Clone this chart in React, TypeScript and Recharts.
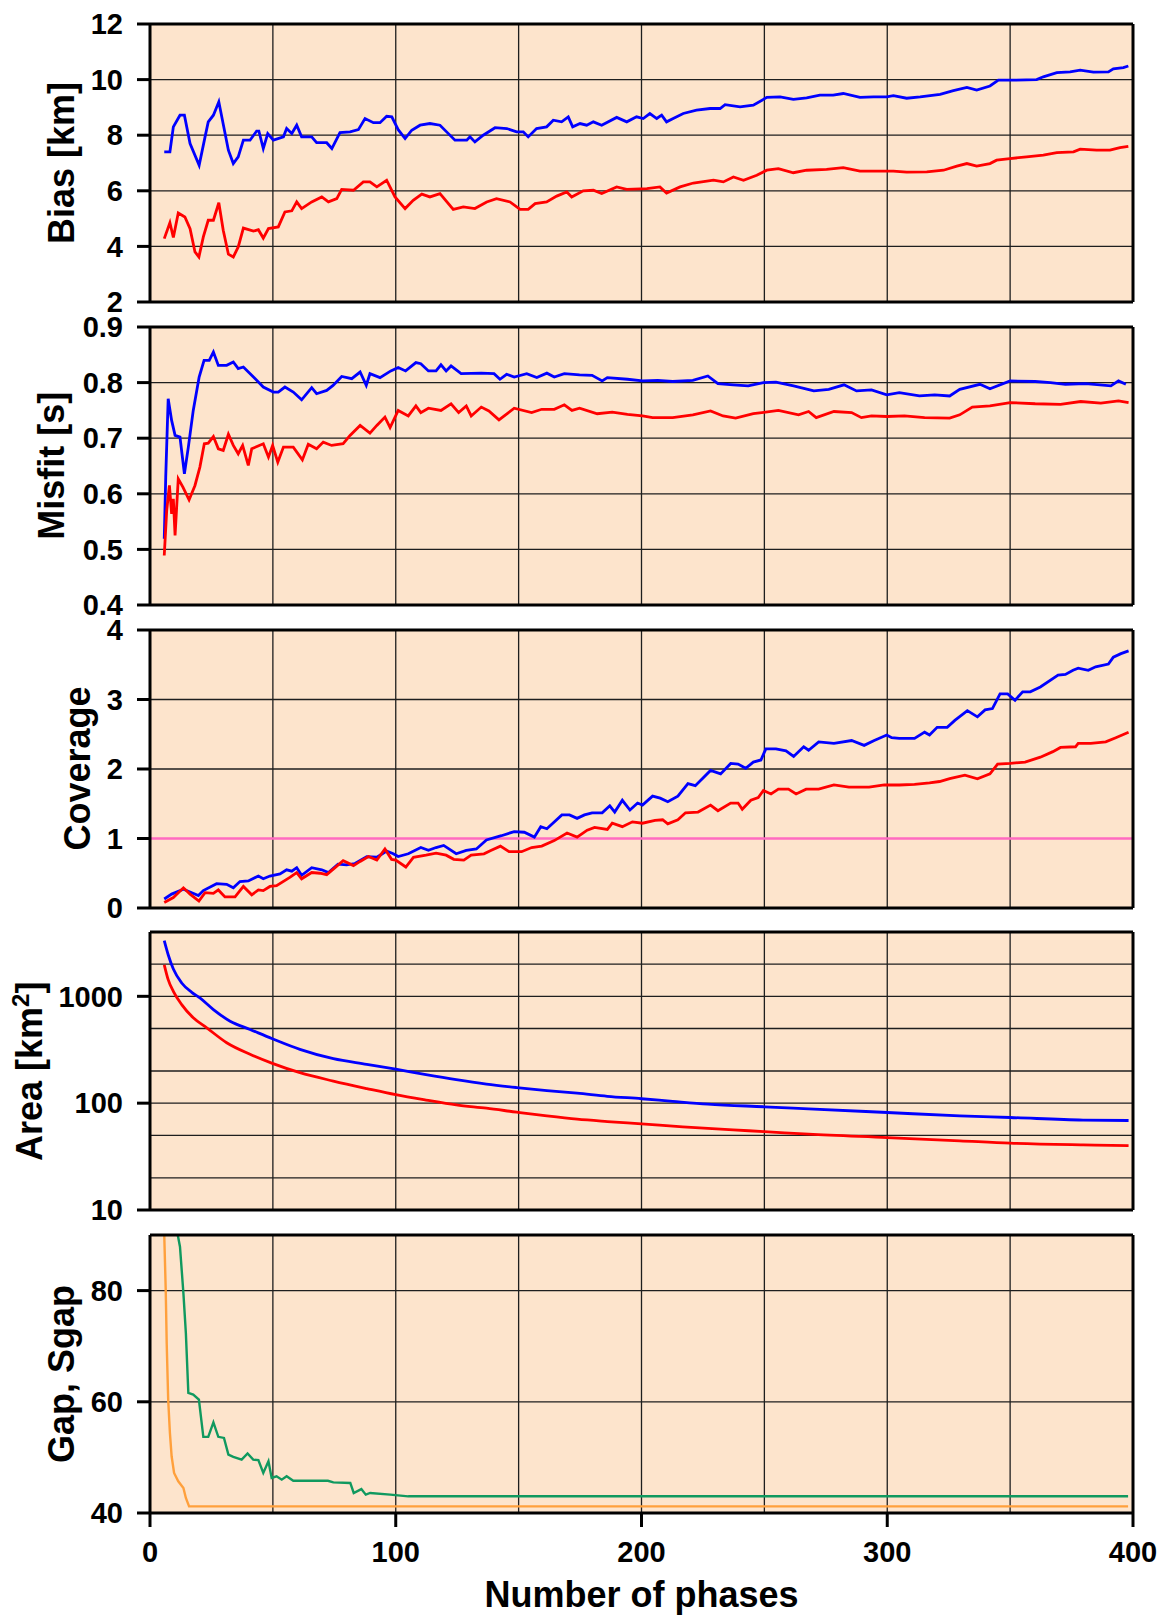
import React from "react"
import { LineChart, Line, XAxis, YAxis, CartesianGrid, ReferenceLine } from "recharts"

// shared x axis
const xTicks = [0, 100, 200, 300, 400]
const xGrid = [50, 100, 150, 200, 250, 300, 350]

// Bias [km]
const biasTicks = [2, 4, 6, 8, 10, 12]
const biasBlueX = [5.8, 8.1, 9.5, 12.2, 14, 16.3, 20, 22.4, 23.7, 25.8, 28, 31.9, 33.9, 35.9, 38, 40.7, 43.4, 44.3, 46.1, 47.9, 50.2, 54.3, 55.6, 57.7, 59.7, 61.7, 65.8, 67.8, 71.9, 74, 77.3, 81.4, 84.8, 87.5, 90.9, 93.6, 96.3, 98.4, 101, 103.8, 106.5, 109.9, 113.9, 118, 120.7, 124.1, 128.9, 130.2, 132.2, 135.6, 140.4, 145.2, 149.2, 151.9, 153.9, 157.3, 161.4, 164.1, 167.5, 170.2, 172, 175, 177.7, 180.4, 183.8, 189.9, 194, 198, 200.7, 203.4, 206.2, 208.2, 210.2, 212.9, 217, 222.4, 227.9, 232, 234, 240.1, 245.5, 251, 256.4, 261.8, 267.2, 272.6, 278, 282.1, 288.9, 294.4, 299.8, 302.5, 307.9, 313.4, 321.5, 326.9, 332.4, 336.4, 341.8, 345.2, 351.3, 360.8, 363.5, 369, 374.4, 378.5, 383.9, 390, 392, 396.1, 398.1]
const biasBlueY = [7.4, 7.4, 8.3, 8.72, 8.72, 7.7, 6.92, 7.94, 8.48, 8.72, 9.2, 7.46, 6.98, 7.22, 7.82, 7.82, 8.15, 8.15, 7.52, 8.06, 7.82, 7.94, 8.24, 8.06, 8.36, 7.94, 7.94, 7.73, 7.73, 7.52, 8.09, 8.12, 8.2, 8.6, 8.45, 8.45, 8.68, 8.66, 8.2, 7.88, 8.18, 8.36, 8.42, 8.36, 8.12, 7.82, 7.82, 7.94, 7.76, 8, 8.27, 8.24, 8.12, 8.12, 7.94, 8.24, 8.3, 8.54, 8.48, 8.66, 8.3, 8.42, 8.36, 8.48, 8.36, 8.64, 8.48, 8.66, 8.6, 8.78, 8.6, 8.72, 8.48, 8.6, 8.78, 8.9, 8.96, 8.96, 9.1, 9.02, 9.08, 9.36, 9.38, 9.29, 9.34, 9.44, 9.44, 9.5, 9.36, 9.38, 9.38, 9.42, 9.33, 9.38, 9.47, 9.6, 9.72, 9.62, 9.77, 9.98, 9.98, 10, 10.1, 10.25, 10.28, 10.34, 10.27, 10.28, 10.39, 10.43, 10.49]
const biasRedX = [5.8, 8.1, 9.5, 11.5, 14.2, 16.3, 18.3, 19.9, 21.7, 23.7, 25.8, 28, 29.8, 31.9, 33.9, 35.9, 38, 42.1, 44.1, 46.1, 48.2, 52.2, 54.9, 57.7, 59.7, 61.7, 65.8, 69.9, 72.6, 76, 78, 82.8, 86.8, 89.5, 92.3, 96.3, 99.7, 103.8, 107.1, 110.6, 113.9, 118, 123.4, 127.5, 132.2, 137, 141, 146.5, 150.6, 153.9, 156.7, 161.4, 165.5, 169.6, 171.6, 176.3, 180.4, 183.8, 189.9, 194, 202.2, 207.5, 210.2, 215.7, 221.1, 229.3, 233.3, 237.4, 241.5, 246.9, 251, 255.7, 261.8, 267.2, 275.3, 282.1, 288.9, 297.1, 302.5, 307.9, 316.1, 322.9, 328.3, 332.4, 336.4, 341.8, 344.5, 349.9, 356.7, 363.5, 369, 375.8, 378.5, 385.2, 390.6, 394.7, 398.1]
const biasRedY = [4.28, 4.85, 4.32, 5.2, 5.06, 4.64, 3.8, 3.62, 4.34, 4.94, 4.94, 5.57, 4.58, 3.72, 3.62, 3.98, 4.66, 4.55, 4.6, 4.3, 4.64, 4.7, 5.24, 5.28, 5.6, 5.36, 5.6, 5.78, 5.6, 5.72, 6.05, 6.02, 6.32, 6.32, 6.14, 6.38, 5.78, 5.36, 5.66, 5.88, 5.78, 5.9, 5.33, 5.42, 5.36, 5.6, 5.72, 5.6, 5.33, 5.33, 5.54, 5.6, 5.81, 5.96, 5.78, 6, 6.02, 5.9, 6.14, 6.05, 6.08, 6.14, 5.92, 6.14, 6.28, 6.38, 6.32, 6.5, 6.38, 6.56, 6.74, 6.8, 6.65, 6.74, 6.77, 6.83, 6.71, 6.71, 6.71, 6.67, 6.68, 6.74, 6.89, 6.98, 6.89, 6.98, 7.1, 7.16, 7.22, 7.28, 7.37, 7.4, 7.5, 7.46, 7.46, 7.55, 7.6]

// Misfit [s]
const misfitTicks = [0.4, 0.5, 0.6, 0.7, 0.8, 0.9]
const misfitBlueX = [5.8, 6.4, 7.4, 8.8, 10.2, 12.2, 14, 15.6, 17.6, 20, 22, 24.1, 25.8, 27.8, 31.2, 33.9, 35.9, 38, 42.1, 46.1, 50.2, 52.2, 54.9, 58.3, 61.7, 65.8, 67.8, 71.9, 74.5, 78, 82.1, 85.5, 88, 89.5, 93.6, 98, 101, 104, 108.2, 110.2, 113.3, 116.4, 118.4, 120.5, 122.5, 126.6, 134.8, 140, 142.4, 145.1, 148.2, 153.3, 157.4, 161.5, 164.5, 168.6, 174.8, 179.9, 184, 186.1, 194.3, 200.4, 206.6, 212.7, 220.9, 227, 231.1, 237.3, 243.4, 249.6, 254.7, 261.9, 270.1, 276.2, 282.4, 287.5, 293.6, 299.8, 304.9, 313.1, 319.3, 325.4, 329.5, 337.7, 341.8, 350, 360.2, 366.4, 372.5, 380.7, 391, 394.1, 397.1]
const misfitBlueY = [0.519, 0.63, 0.771, 0.732, 0.705, 0.702, 0.636, 0.684, 0.75, 0.81, 0.84, 0.84, 0.855, 0.831, 0.831, 0.837, 0.825, 0.828, 0.81, 0.792, 0.783, 0.783, 0.792, 0.783, 0.769, 0.791, 0.78, 0.786, 0.795, 0.811, 0.807, 0.819, 0.795, 0.816, 0.809, 0.821, 0.827, 0.821, 0.836, 0.834, 0.821, 0.821, 0.832, 0.821, 0.83, 0.816, 0.817, 0.816, 0.806, 0.815, 0.81, 0.816, 0.809, 0.817, 0.81, 0.816, 0.814, 0.813, 0.803, 0.809, 0.806, 0.803, 0.804, 0.802, 0.804, 0.812, 0.798, 0.796, 0.794, 0.8, 0.801, 0.794, 0.785, 0.788, 0.796, 0.785, 0.787, 0.778, 0.782, 0.776, 0.778, 0.776, 0.788, 0.797, 0.789, 0.803, 0.802, 0.8, 0.797, 0.798, 0.794, 0.803, 0.797]
const misfitRedX = [5.8, 6.8, 7.9, 8.8, 9.5, 10.2, 11.5, 13.4, 15.9, 18.3, 20.3, 22.1, 23.7, 25.8, 27.8, 29.8, 31.9, 33.9, 35.9, 37.7, 40, 41.4, 46.1, 48.2, 49.9, 52, 54.3, 58.3, 62, 64.4, 67.8, 70.5, 73.9, 78.6, 81.4, 85.5, 89.5, 92.3, 95.6, 97.7, 101, 105.1, 108.2, 110.2, 113.3, 118.4, 122.5, 125.6, 128.7, 130.7, 134.8, 137.9, 142, 148.2, 155.3, 159.4, 164.5, 168.6, 171.7, 174.8, 182, 188.1, 194.3, 200.4, 204.5, 212.7, 220.9, 228.1, 233.2, 238.3, 245.5, 255.7, 263.9, 268, 271.1, 278.3, 285.5, 289.5, 293.6, 299.8, 307, 315.2, 325.4, 329.5, 334.6, 341.8, 350, 360.2, 370.5, 378.7, 386.9, 394.1, 398.2]
const misfitRedY = [0.489, 0.57, 0.615, 0.564, 0.591, 0.525, 0.627, 0.612, 0.589, 0.615, 0.648, 0.69, 0.691, 0.703, 0.681, 0.678, 0.707, 0.687, 0.672, 0.687, 0.651, 0.681, 0.69, 0.666, 0.687, 0.657, 0.684, 0.684, 0.661, 0.689, 0.681, 0.693, 0.687, 0.69, 0.705, 0.723, 0.709, 0.723, 0.738, 0.719, 0.75, 0.74, 0.758, 0.746, 0.754, 0.75, 0.762, 0.746, 0.758, 0.74, 0.756, 0.749, 0.733, 0.754, 0.746, 0.752, 0.752, 0.76, 0.75, 0.754, 0.744, 0.747, 0.743, 0.74, 0.737, 0.737, 0.742, 0.749, 0.74, 0.736, 0.744, 0.75, 0.742, 0.748, 0.737, 0.748, 0.746, 0.737, 0.74, 0.739, 0.74, 0.737, 0.736, 0.742, 0.756, 0.758, 0.764, 0.762, 0.761, 0.766, 0.763, 0.767, 0.764]

// Coverage
const coverageTicks = [0, 1, 2, 3, 4]
const coverageBlueX = [5.8, 8.8, 13.6, 17, 19.7, 21.7, 27.1, 31.2, 33.9, 36.6, 40, 44.1, 46.1, 48.8, 52.9, 55.6, 57.7, 59.7, 61.7, 65.8, 69.9, 72.6, 76.5, 80, 83.4, 88.2, 92.3, 96.3, 99, 101, 105.1, 110.2, 113.3, 116.4, 119.5, 124.6, 128.7, 132.8, 136.9, 143, 148.2, 152.3, 156.4, 159, 161.5, 167.6, 170.7, 173.8, 176.8, 179.9, 184, 187.1, 189.1, 192.2, 195.3, 198.4, 200.4, 204.5, 207.6, 210.7, 214.8, 218.9, 221.9, 228.1, 232.2, 236.3, 239.3, 242.4, 245.5, 248.6, 250.6, 254.7, 258.8, 261.9, 266, 268, 272.1, 278.3, 285.5, 290.6, 294.7, 299.8, 301.8, 304.9, 311.1, 315.2, 317.2, 320.3, 324.4, 327.5, 332.6, 336.7, 339.8, 342.8, 345.9, 349, 352, 355.1, 358.2, 362.3, 369.5, 372.5, 375.6, 377.7, 381.8, 384.8, 390, 392, 395.1, 398.2]
const coverageBlueY = [0.13, 0.2, 0.27, 0.22, 0.18, 0.25, 0.35, 0.34, 0.29, 0.38, 0.39, 0.46, 0.42, 0.46, 0.49, 0.55, 0.53, 0.58, 0.47, 0.58, 0.55, 0.51, 0.63, 0.62, 0.64, 0.74, 0.73, 0.82, 0.78, 0.74, 0.78, 0.87, 0.83, 0.87, 0.9, 0.78, 0.83, 0.85, 0.98, 1.04, 1.1, 1.09, 1.02, 1.17, 1.14, 1.34, 1.34, 1.29, 1.34, 1.37, 1.37, 1.47, 1.38, 1.55, 1.41, 1.51, 1.48, 1.61, 1.58, 1.53, 1.61, 1.79, 1.76, 1.98, 1.93, 2.08, 2.07, 2.01, 2.1, 2.13, 2.29, 2.29, 2.26, 2.18, 2.32, 2.27, 2.39, 2.37, 2.41, 2.34, 2.41, 2.49, 2.45, 2.44, 2.44, 2.53, 2.49, 2.6, 2.6, 2.7, 2.84, 2.75, 2.85, 2.87, 3.08, 3.08, 2.99, 3.11, 3.11, 3.18, 3.35, 3.36, 3.42, 3.45, 3.42, 3.47, 3.51, 3.61, 3.66, 3.7]
const coverageRedX = [5.8, 9.5, 13.6, 16.3, 19.9, 22.4, 25.8, 27.8, 30.5, 34.6, 38, 41.4, 44.1, 46.1, 48.8, 51.5, 56.9, 59.7, 61.7, 65.8, 69.2, 71.9, 75.3, 78.6, 82.8, 85.5, 88.9, 92.3, 95.6, 98.3, 100, 104.1, 107.2, 112.3, 116.4, 120.5, 123.6, 127.7, 130.7, 135.9, 138.9, 142.6, 146.1, 151.2, 155.3, 159.4, 164.5, 169.7, 173.8, 177.9, 180.9, 186.1, 188.1, 192.2, 196.3, 200.4, 205.5, 208.6, 210.7, 214.8, 217.9, 223, 228.1, 231.1, 236.3, 239.3, 241, 244.5, 247.5, 249.6, 252.7, 255.7, 259.8, 262.9, 267, 272.1, 278.3, 284.4, 292.6, 298.8, 304.9, 311.1, 317.2, 321.3, 325.4, 331.6, 336.7, 341.8, 344.9, 350, 356.1, 362.3, 367.4, 370.5, 376.6, 377.7, 382.8, 388.9, 393, 398.2]
const coverageRedY = [0.08, 0.15, 0.29, 0.2, 0.1, 0.22, 0.21, 0.26, 0.16, 0.16, 0.31, 0.19, 0.26, 0.25, 0.31, 0.32, 0.44, 0.51, 0.42, 0.51, 0.5, 0.48, 0.58, 0.68, 0.61, 0.67, 0.74, 0.69, 0.85, 0.7, 0.69, 0.59, 0.73, 0.76, 0.79, 0.76, 0.7, 0.69, 0.76, 0.78, 0.83, 0.89, 0.81, 0.81, 0.87, 0.89, 0.97, 1.08, 1.02, 1.12, 1.16, 1.13, 1.22, 1.17, 1.24, 1.22, 1.26, 1.27, 1.21, 1.27, 1.37, 1.38, 1.48, 1.4, 1.51, 1.51, 1.42, 1.55, 1.59, 1.69, 1.64, 1.71, 1.71, 1.64, 1.71, 1.71, 1.77, 1.74, 1.74, 1.77, 1.77, 1.78, 1.8, 1.82, 1.86, 1.91, 1.86, 1.93, 2.07, 2.08, 2.1, 2.17, 2.25, 2.31, 2.32, 2.37, 2.37, 2.39, 2.45, 2.53]
const coverageRef = 1

// Area [km2] (log)
const areaTicks = [10, 100, 1000]
const areaGrid = [20, 50, 100, 200, 500, 1000, 2000]
const areaBlueX = [5.8, 7.4, 9.5, 12.9, 17, 20.3, 25.8, 32.6, 40.7, 49.8, 61, 74.6, 88.2, 100, 112.3, 124.6, 136.9, 149.2, 161.5, 173.8, 186.1, 200, 212.7, 227, 250, 268, 300, 329.5, 350, 379.7, 398.2]
const areaBlueY = [3320, 2450, 1800, 1333, 1090, 966, 751, 585, 490, 401, 319, 261, 231, 208, 185, 166, 151, 140, 131, 124, 116, 110, 104, 98, 92.5, 88.5, 81.8, 76, 73.4, 69.5, 68.8]
const areaRedX = [5.8, 7.4, 9.5, 12.9, 17.6, 23.1, 31.2, 40.7, 49.8, 61, 74.6, 88.2, 100, 112.3, 124.6, 136.9, 149.2, 161.5, 173.8, 186.1, 200, 216.8, 237.3, 250, 268, 300, 329.5, 350, 379.7, 398.2]
const areaRedY = [1972, 1432, 1113, 837, 630, 507, 368, 287, 236, 193, 161, 137, 120, 107, 96.4, 89.7, 82.4, 76, 70.8, 67.3, 64, 60, 56.2, 54.2, 51.2, 47.6, 44.4, 42.2, 40.7, 40.1]

// Gap, Sgap
const gapTicks = [40, 60, 80]
const gapOrangeX = [5.8, 6.4, 6.8, 7.4, 8.1, 8.8, 9.8, 11.5, 13.6, 14.6, 15.9, 398]
const gapOrangeY = [90, 80.1, 70.5, 60.4, 54.4, 50.2, 47.2, 45.7, 44.5, 42.7, 41.2, 41.2]
const gapGreenX = [11.3, 12.2, 13.6, 14.6, 15.6, 17.6, 19.9, 21.7, 23.7, 25.8, 27.8, 30.1, 31.9, 33.9, 37.3, 39.7, 42, 44.1, 46.1, 48.2, 49.5, 51.5, 53.6, 55.6, 58.3, 72.4, 74.6, 81.5, 82.9, 86, 87.8, 89.6, 97.8, 105.1, 398]
const gapGreenY = [90, 87.9, 79.5, 72.3, 61.6, 61.3, 60.4, 53.7, 53.7, 56.3, 53.7, 53.5, 50.5, 50.1, 49.6, 50.7, 49.6, 49.5, 47.2, 49.3, 46.3, 46.6, 46, 46.6, 45.8, 45.8, 45.5, 45.4, 43.6, 44.3, 43.3, 43.6, 43.3, 43, 43]

const BLUE = "#0000ff"
const RED = "#ff0000"
const GREEN = "#10995f"
const ORANGE = "#ffa03c"
const PINK = "#ff6ac1"
const BG = "#fde4cc"
const FONT = "'Liberation Sans', Arial, Helvetica, sans-serif"

const PLOT_H = 278
const STEP = 302.75
const FIRST_TOP = 24
const PAD = 20 // extra room so edge tick labels are not clipped

const zip = (xs: number[], ys: number[]) => xs.map((x, i) => ({ x, y: ys[i] }))

interface Series {
    data: { x: number; y: number }[]
    color: string
    width: number
    curve?: "linear" | "monotone"
}

interface PanelProps {
    index: number
    domain: [number, number]
    ticks: number[]
    gridY: number[]
    scale?: "log" | "linear"
    series: Series[]
    pinkAt?: number
    tickFmt?: (v: number) => string
    last?: boolean
}

const tickStyle = { fill: "#000", fontSize: 29, fontWeight: 700, fontFamily: FONT }
const axisLine = { stroke: "#000", strokeWidth: 3 }
const tickLine = { stroke: "#000", strokeWidth: 3 }

function Panel({ index, domain, ticks, gridY, scale = "linear", series, pinkAt, tickFmt, last }: PanelProps) {
    const topAxis = 14
    const bottomAxis = last ? 70 : 14
    const plotTop = FIRST_TOP + index * STEP
    return (
        <div style={{ position: "absolute", left: 0, top: plotTop - topAxis - PAD }}>
            <LineChart
                width={1170}
                height={PLOT_H + topAxis + bottomAxis + 2 * PAD}
                margin={{ top: PAD, right: 0, bottom: PAD, left: 0 }}
            >
                <CartesianGrid fill={BG} fillOpacity={1} horizontal={false} vertical={false} />
                <XAxis
                    xAxisId="top"
                    orientation="top"
                    dataKey="x"
                    type="number"
                    domain={[0, 400]}
                    ticks={xTicks}
                    tick={false}
                    tickSize={index === 0 ? 14 : 13}
                    height={topAxis}
                    axisLine={axisLine}
                    tickLine={tickLine}
                    allowDataOverflow
                />
                <XAxis
                    dataKey="x"
                    type="number"
                    domain={[0, 400]}
                    ticks={xTicks}
                    tick={last ? tickStyle : false}
                    tickSize={last ? 14 : 13}
                    tickMargin={14}
                    height={bottomAxis}
                    axisLine={axisLine}
                    tickLine={tickLine}
                    allowDataOverflow
                />
                <YAxis
                    type="number"
                    scale={scale}
                    domain={domain}
                    ticks={ticks}
                    tickFormatter={tickFmt}
                    tick={tickStyle}
                    tickSize={13}
                    tickMargin={14}
                    width={150}
                    axisLine={axisLine}
                    tickLine={tickLine}
                    allowDataOverflow
                    interval={0}
                />
                <YAxis
                    yAxisId="right"
                    orientation="right"
                    type="number"
                    scale={scale}
                    domain={domain}
                    ticks={ticks}
                    tick={false}
                    tickSize={13}
                    width={37}
                    axisLine={axisLine}
                    tickLine={tickLine}
                    allowDataOverflow
                    interval={0}
                />
                {xGrid.map((v) => (
                    <ReferenceLine key={"x" + v} x={v} stroke="#1e1e1e" strokeWidth={1.3} />
                ))}
                {gridY.map((v) => (
                    <ReferenceLine key={"y" + v} y={v} stroke="#1e1e1e" strokeWidth={1.3} />
                ))}
                {pinkAt !== undefined && <ReferenceLine y={pinkAt} stroke={PINK} strokeWidth={2.5} />}
                {series.map((s, i) => (
                    <Line
                        key={i}
                        data={s.data}
                        dataKey="y"
                        type={s.curve ?? "linear"}
                        stroke={s.color}
                        strokeWidth={s.width}
                        dot={false}
                        activeDot={false}
                        isAnimationActive={false}
                    />
                ))}
            </LineChart>
        </div>
    )
}

const titleStyle: React.CSSProperties = { fontFamily: FONT, fontWeight: 700, fontSize: 36 }

function Title({ x, y, children }: { x: number; y: number; children: React.ReactNode }) {
    return (
        <text x={x} y={y} textAnchor="middle" transform={`rotate(-90 ${x} ${y})`} style={titleStyle}>
            {children}
        </text>
    )
}

export default function App() {
    const mid = (i: number) => FIRST_TOP + i * STEP + PLOT_H / 2
    return (
        <div style={{ position: "absolute", left: 0, top: 0, width: 1170, height: 1619, background: "#fff", overflow: "hidden" }}>
            <Panel
                index={0}
                domain={[2, 12]}
                ticks={biasTicks}
                gridY={[4, 6, 8, 10]}
                series={[
                    { data: zip(biasBlueX, biasBlueY), color: BLUE, width: 2.8 },
                    { data: zip(biasRedX, biasRedY), color: RED, width: 2.8 },
                ]}
            />
            <Panel
                index={1}
                domain={[0.4, 0.9]}
                ticks={misfitTicks}
                gridY={[0.5, 0.6, 0.7, 0.8]}
                tickFmt={(v) => v.toFixed(1)}
                series={[
                    { data: zip(misfitBlueX, misfitBlueY), color: BLUE, width: 2.8 },
                    { data: zip(misfitRedX, misfitRedY), color: RED, width: 2.8 },
                ]}
            />
            <Panel
                index={2}
                domain={[0, 4]}
                ticks={coverageTicks}
                gridY={[2, 3]}
                pinkAt={coverageRef}
                series={[
                    { data: zip(coverageBlueX, coverageBlueY), color: BLUE, width: 2.8 },
                    { data: zip(coverageRedX, coverageRedY), color: RED, width: 2.8 },
                ]}
            />
            <Panel
                index={3}
                domain={[10, 4000]}
                scale="log"
                ticks={areaTicks}
                gridY={areaGrid}
                series={[
                    { data: zip(areaBlueX, areaBlueY), color: BLUE, width: 2.8, curve: "monotone" },
                    { data: zip(areaRedX, areaRedY), color: RED, width: 2.8, curve: "monotone" },
                ]}
            />
            <Panel
                index={4}
                domain={[40, 90]}
                ticks={gapTicks}
                gridY={[60, 80]}
                last
                series={[
                    { data: zip(gapOrangeX, gapOrangeY), color: ORANGE, width: 2.4 },
                    { data: zip(gapGreenX, gapGreenY), color: GREEN, width: 2.4 },
                ]}
            />
            <svg
                width={1170}
                height={1619}
                style={{ position: "absolute", left: 0, top: 0, pointerEvents: "none" }}
            >
                <Title x={73.5} y={mid(0)}>Bias [km]</Title>
                <Title x={63.5} y={mid(1)}>Misfit [s]</Title>
                <Title x={89.5} y={mid(2)}>Coverage</Title>
                <Title x={42} y={mid(3)}>
                    Area [km
                    <tspan fontSize={24} dy={-13}>2</tspan>
                    <tspan dy={13}>]</tspan>
                </Title>
                <Title x={74} y={mid(4)}>Gap, Sgap</Title>
                <text x={641.5} y={1607} textAnchor="middle" style={titleStyle}>
                    Number of phases
                </text>
            </svg>
        </div>
    )
}
